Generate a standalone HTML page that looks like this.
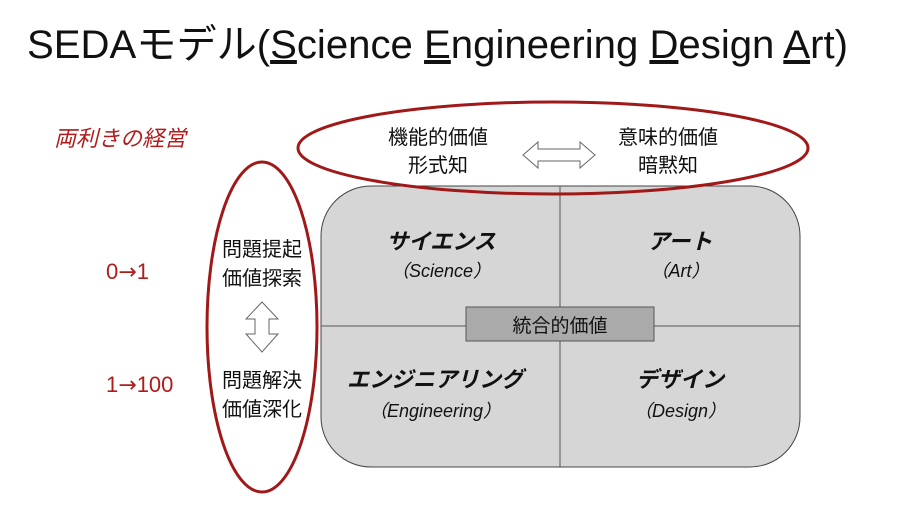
<!DOCTYPE html>
<html><head><meta charset="utf-8"><style>
html,body{margin:0;padding:0;background:#fff;width:900px;height:523px;overflow:hidden}
svg text{font-family:"Liberation Sans","Noto Sans CJK JP",sans-serif}
</style></head><body>
<svg width="900" height="523" viewBox="0 0 900 523" xmlns="http://www.w3.org/2000/svg">
<text x="27" y="58" font-size="40" fill="#111" textLength="821" lengthAdjust="spacingAndGlyphs">SEDAモデル(<tspan text-decoration="underline">S</tspan>cience <tspan text-decoration="underline">E</tspan>ngineering <tspan text-decoration="underline">D</tspan>esign <tspan text-decoration="underline">A</tspan>rt)</text>
<text x="54" y="146" font-size="22" fill="#b01c1c" font-style="italic">両利きの経営</text>
<rect x="321" y="186" width="479" height="281" rx="50" fill="#d6d6d6" stroke="#444" stroke-width="1"/>
<line x1="560" y1="186" x2="560" y2="467" stroke="#555"/>
<line x1="321" y1="326" x2="800" y2="326" stroke="#555"/>
<rect x="466" y="307" width="188" height="34" fill="#aaa" stroke="#555"/>
<text x="560" y="332" font-size="19" text-anchor="middle" fill="#111">統合的価値</text>
<g font-style="italic" text-anchor="middle" fill="#111">
<text x="441" y="249" font-size="22" font-weight="bold">サイエンス</text>
<text x="441" y="277" font-size="18">（Science）</text>
<text x="680" y="249" font-size="22" font-weight="bold">アート</text>
<text x="680" y="277" font-size="18">（Art）</text>
<text x="435" y="387" font-size="22" font-weight="bold">エンジニアリング</text>
<text x="435" y="417" font-size="18">（Engineering）</text>
<text x="680" y="387" font-size="22" font-weight="bold">デザイン</text>
<text x="680" y="417" font-size="18">（Design）</text>
</g>
<ellipse cx="553" cy="148" rx="255" ry="46" fill="none" stroke="#a01818" stroke-width="3"/>
<ellipse cx="262" cy="327" rx="55" ry="165" fill="none" stroke="#a01818" stroke-width="3"/>
<g font-size="20" fill="#111" text-anchor="middle">
<text x="438" y="144">機能的価値</text>
<text x="438" y="172">形式知</text>
<text x="668" y="144">意味的価値</text>
<text x="668" y="172">暗黙知</text>
<text x="262" y="256">問題提起</text>
<text x="262" y="285">価値探索</text>
<text x="262" y="387">問題解決</text>
<text x="262" y="416">価値深化</text>
</g>
<polygon points="523,155 538,142 538,149 580,149 580,142 595,155 580,168 580,161 538,161 538,168" fill="#fff" stroke="#666"/>
<polygon points="262,302 278,319 269,319 269,334 278,334 262,352 246,334 255,334 255,319 246,319" fill="#fff" stroke="#666"/>
<text x="106" y="279" font-size="22" fill="#b01c1c">0<tspan style="font-family:'DejaVu Sans',sans-serif">→</tspan>1</text>
<text x="106" y="392" font-size="22" fill="#b01c1c">1<tspan style="font-family:'DejaVu Sans',sans-serif">→</tspan>100</text>
</svg>
</body></html>
